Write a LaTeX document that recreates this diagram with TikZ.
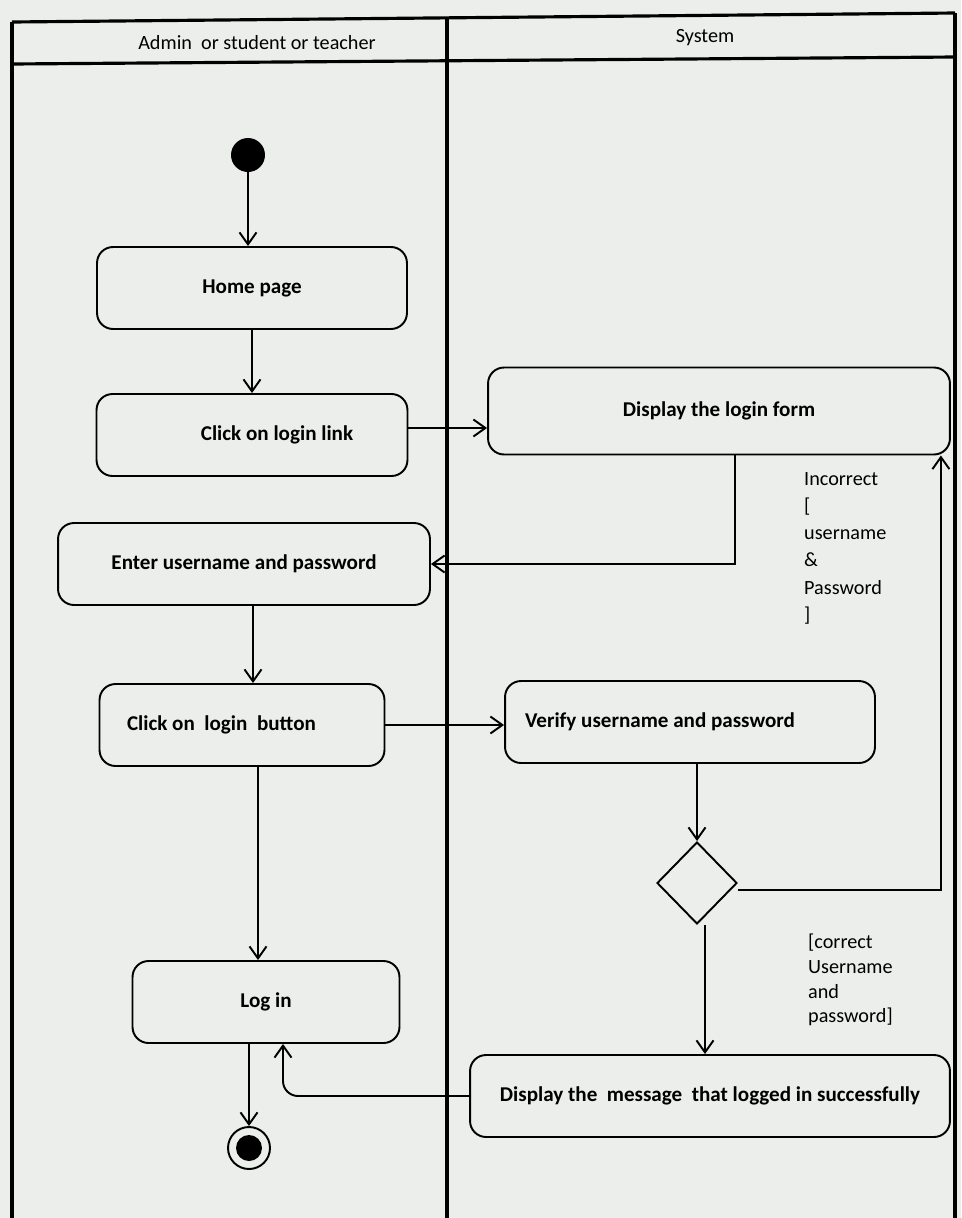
\documentclass[tikz,border=0pt]{standalone}
\usepackage{fontspec}
\setmainfont{Carlito}
\usetikzlibrary{shapes.geometric,arrows.meta}
\definecolor{paper}{RGB}{236,238,236}
\tikzset{
  activity/.style = {rectangle, draw, rounded corners=0.32cm, line width=1.1pt,
    minimum height=1.64cm, font=\fontsize{12}{14}\selectfont\bfseries},
  decision/.style = {diamond, draw, line width=1.1pt, minimum width=1.6cm,
    minimum height=1.64cm, inner sep=0pt},
  guard/.style = {align=flush left, anchor=north west, font=\fontsize{11.5}{14}\selectfont},
  line/.style = {draw, line width=1.1pt, -{Straight Barb[length=2.4mm,width=3.4mm]}},
  lane/.style = {line width=1.8pt}
}

\begin{document}
\begin{tikzpicture}[x=0.02cm, y=-0.02cm]
	\useasboundingbox[fill=paper] (0,0) rectangle (961,1218);
	% Swimlanes
	\draw[lane] (12,22) -- (955,13);
	\draw[lane] (12,64) -- (955,57);
	\draw[lane] (12,22) -- (12,1218);
	\draw[lane] (447,18) -- (447,1218);
	\draw[lane] (955,13) -- (955,1218);
	\node[font=\fontsize{11.5}{13}\selectfont] (actor) at (257,43) {Admin\ \ or student or teacher};
	\node[font=\fontsize{11.5}{13}\selectfont] (system) at (705,38) {System};
	% Place nodes
	\node[circle, fill=black, minimum size=0.68cm, inner sep=0pt] (start) at (248,155) {};
	\node[activity, minimum width=6.2cm] (home) at (252,288) {Home page};
	\node[activity, minimum width=6.22cm] (clicklink) at (252,435) {\hspace*{1cm}Click on login link};
	\node[activity, minimum width=9.24cm, minimum height=1.74cm] (form) at (719,411) {Display the login form};
	\node[activity, minimum width=7.44cm] (enter) at (244,564) {Enter username and password};
	\node[activity, minimum width=5.7cm, align=flush left, text width=4.6cm, inner xsep=0.55cm] (button) at (242,725) {Click on\ \ login\ \ button};
	\node[activity, minimum width=7.4cm, align=flush left, text width=6.6cm, inner xsep=0.4cm] (verify) at (690,722) {Verify username and password};
	\node[decision] (check) at (697,883) {};
	\node[activity, minimum width=9.6cm] (message) at (710,1096) {Display the\ \ message\ \ that logged in successfully};
	\node[activity, minimum width=5.34cm] (login) at (266,1002) {Log in};
	\node[circle, draw, line width=1.1pt, minimum size=0.84cm, inner sep=0pt] (stop) at (249,1148) {};
	\node[circle, fill=black, minimum size=0.52cm, inner sep=0pt] at (stop) {};
	% Guards
	\node[guard, font=\fontsize{11.5}{15.5}\selectfont] (wrong) at (798,466) {Incorrect\\{[}\\username\\\&\\Password\\{]}};
	\node[guard] (right) at (802,928) {[correct\\Username\\and\\password]};
	% Draw edges
	\path[line] (start) -- (start |- home.north);
	\path[line] (home.south) -- (clicklink.north);
	\path[line] ([yshift=0.14cm]clicklink.east) -- ([yshift=0.14cm]clicklink.east -| form.west);
	\path[line] ([xshift=0.32cm]form.south) |- (enter.east);
	\path[line] ([xshift=0.18cm]enter.south) -- ([xshift=0.18cm]enter.south |- button.north);
	\path[line] (button.east) -- (button.east -| verify.west);
	\path[line] (verify.south -| check.north) -- (check.north);
	\path[line] ([yshift=-0.14cm]check.east) -| ([xshift=-0.2cm]form.south east);
	\path[line] ([xshift=0.16cm]check.south) -- ([xshift=0.16cm]check.south |- message.north);
	\path[line] ([xshift=0.32cm]button.south) -- ([xshift=0.32cm]button.south |- login.north);
	\path[line, rounded corners=0.3cm] (message.west) -| ([xshift=0.34cm]login.south);
	\path[line] (login.south -| stop) -- (stop.north);
\end{tikzpicture}
\end{document}
